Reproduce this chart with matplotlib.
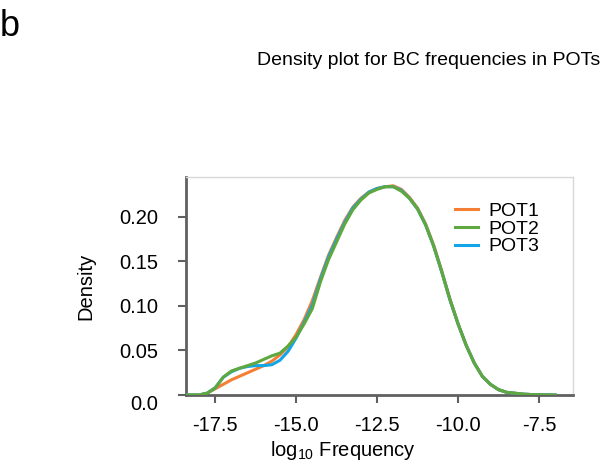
import numpy as np
import matplotlib
matplotlib.use("Agg")
import matplotlib.pyplot as plt

plt.rcParams["font.family"] = ["Liberation Sans", "DejaVu Sans"]
plt.rcParams["mathtext.default"] = "regular"

# log10 frequency grid and density values
log_freq = [-18.5, -18.25, -18.0, -17.75, -17.5, -17.25, -17.0, -16.75, -16.5, -16.25,
            -16.0, -15.75, -15.5, -15.25, -15.0, -14.75, -14.5, -14.25, -14.0, -13.75,
            -13.5, -13.25, -13.0, -12.75, -12.5, -12.25, -12.0, -11.75, -11.5, -11.25,
            -11.0, -10.75, -10.5, -10.25, -10.0, -9.75, -9.5, -9.25, -9.0, -8.75,
            -8.5, -8.25, -8.0, -7.75, -7.5, -7.25, -7.0]

pot1 = [0.0, 0.0, 0.0, 0.002, 0.007, 0.012, 0.017, 0.021, 0.025, 0.029,
        0.033, 0.038, 0.045, 0.054, 0.068, 0.085, 0.106, 0.132, 0.157, 0.177,
        0.196, 0.211, 0.221, 0.228, 0.232, 0.234, 0.235, 0.231, 0.222, 0.210,
        0.192, 0.168, 0.139, 0.108, 0.080, 0.056, 0.036, 0.021, 0.012, 0.006,
        0.003, 0.002, 0.001, 0.0005, 0.0003, 0.0001, 0.0]

pot2 = [0.0, 0.0, 0.0, 0.002, 0.008, 0.020, 0.027, 0.030, 0.033, 0.036,
        0.040, 0.044, 0.047, 0.055, 0.065, 0.080, 0.097, 0.127, 0.152, 0.172,
        0.192, 0.208, 0.219, 0.227, 0.231, 0.234, 0.234, 0.229, 0.221, 0.209,
        0.191, 0.167, 0.138, 0.107, 0.080, 0.056, 0.036, 0.021, 0.012, 0.006,
        0.003, 0.002, 0.001, 0.0005, 0.0003, 0.0001, 0.0]

pot3 = [0.0, 0.0, 0.0, 0.002, 0.008, 0.020, 0.026, 0.030, 0.032, 0.033,
        0.033, 0.034, 0.039, 0.049, 0.064, 0.082, 0.101, 0.130, 0.155, 0.175,
        0.194, 0.210, 0.220, 0.228, 0.232, 0.234, 0.234, 0.230, 0.221, 0.209,
        0.191, 0.167, 0.138, 0.107, 0.080, 0.056, 0.036, 0.021, 0.012, 0.006,
        0.003, 0.002, 0.001, 0.0005, 0.0003, 0.0001, 0.0]

labels = ["POT1", "POT2", "POT3"]
colors = ["#f47f35", "#5fa83f", "#12a5e8"]
x_ticks = [-17.5, -15.0, -12.5, -10.0, -7.5]
y_ticks = [0.0, 0.05, 0.10, 0.15, 0.20]

fig = plt.figure(figsize=(6.06, 4.68), dpi=100)
ax = fig.add_axes([0.307, 0.156, 0.6385, 0.466])

ax.plot(log_freq, pot1, color=colors[0], lw=2.2, label=labels[0], zorder=2)
ax.plot(log_freq, pot2, color=colors[1], lw=2.2, label=labels[1], zorder=4)
ax.plot(log_freq, pot3, color=colors[2], lw=2.2, label=labels[2], zorder=3)

ax.set_xlim(-18.4, -6.45)
ax.set_ylim(0, 0.245)
ax.set_xticks(x_ticks)
ax.set_xticklabels([f"{v:.1f}" for v in x_ticks])
ax.set_yticks(y_ticks)
ax.set_yticklabels(["0.0", "0.05", "0.10", "0.15", "0.20"])

for s in ["left", "bottom"]:
    ax.spines[s].set_color("#606060")
    ax.spines[s].set_linewidth(2)
for s in ["top", "right"]:
    ax.spines[s].set_color("#d8d8d8")
    ax.spines[s].set_linewidth(1)

ax.tick_params(axis="both", labelsize=14.5, color="#606060", length=6, width=1.5)
ax.tick_params(axis="y", pad=14)
ax.tick_params(axis="x", pad=9)
ax.get_yticklabels()[0].set_va("top")

ax.set_ylabel("Density", fontsize=14.5)
ax.yaxis.set_label_coords(-0.235, 0.5)
ax.set_xlabel("log$_{10}$ Frequency", fontsize=14.5)
ax.xaxis.set_label_coords(0.405, -0.2)

ax.legend(loc="upper left", bbox_to_anchor=(0.695, 0.882), frameon=False,
          fontsize=14, handlelength=1.2, handletextpad=0.5,
          labelspacing=0.0, borderpad=0, borderaxespad=0)

fig.text(0.708, 0.87, "Density plot for BC frequencies in POTs", fontsize=14,
         ha="center", va="center")
fig.text(0.0, 0.943, "b", fontsize=26, ha="left", va="center")

fig.savefig("out.png", dpi=100)
